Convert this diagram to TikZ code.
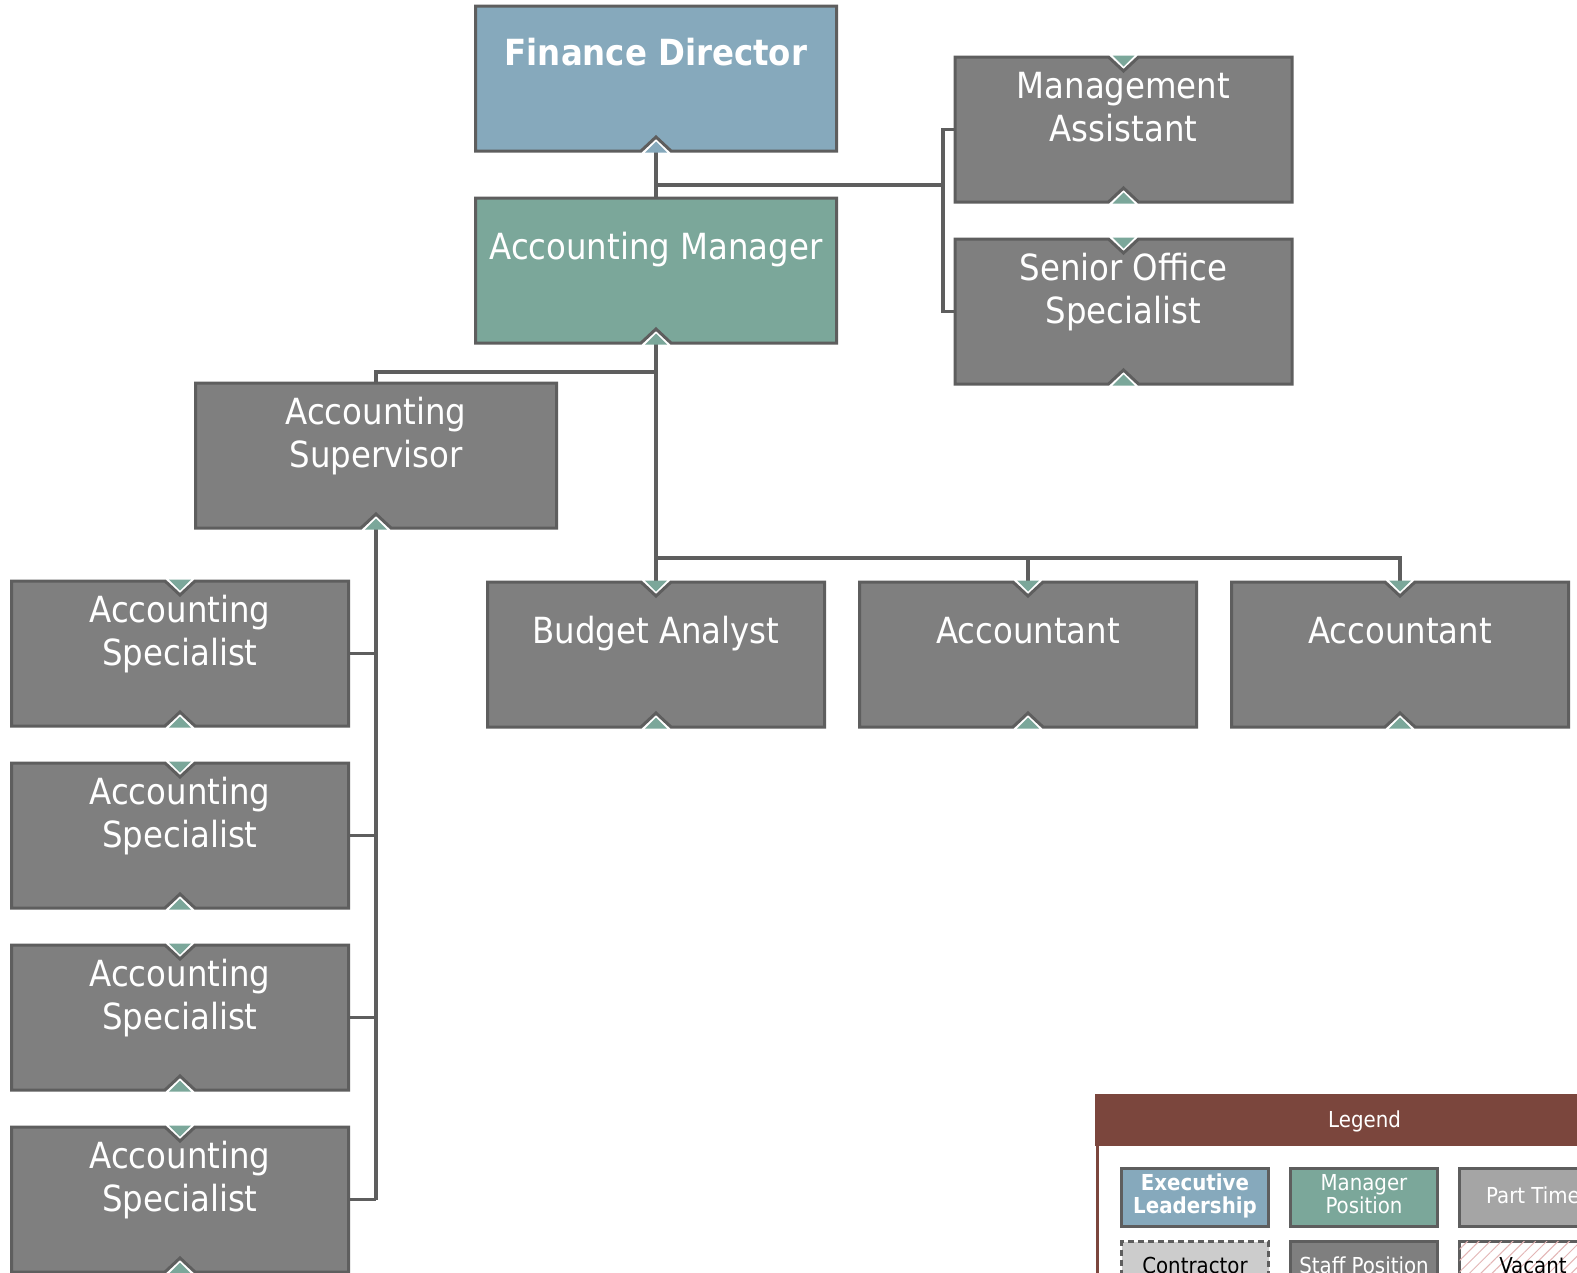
\documentclass[tikz,border=0pt]{standalone}
\usepackage{fontspec}
\newfontfamily\boxfont{DejaVu Sans Condensed}
\usetikzlibrary{calc,patterns.meta}
\definecolor{bgray}{HTML}{5E5E5E}
\definecolor{staff}{HTML}{7F7F7F}
\definecolor{execblue}{HTML}{86A9BC}
\definecolor{mgrgreen}{HTML}{7BA79A}
\definecolor{lbrown}{HTML}{7B463D}
\definecolor{parttime}{HTML}{A5A5A5}
\definecolor{contract}{HTML}{CCCCCC}
\definecolor{hatch}{HTML}{E3B5B5}
\pgfdeclarelayer{back}
\pgfdeclarelayer{bg}
\pgfsetlayers{back,bg,main}
\tikzset{
  boxnode/.style={rectangle, inner sep=0pt, outer sep=0pt, draw=none},
  boxline/.style={draw=bgray, line width=3pt, line join=miter},
  conn/.style={draw=bgray, line width=3.2pt},
  boxtext/.style={text=white, font=\boxfont\fontsize{36}{43}\selectfont, anchor=base, inner sep=0pt},
  boldtext/.style={text=white, font=\boxfont\bfseries\fontsize{36}{43}\selectfont, anchor=base, inner sep=0pt},
  legbox/.style={rectangle, draw=bgray, line width=3pt, minimum width=147pt, minimum height=58pt, anchor=north west, inner sep=0pt},
  legtext/.style={font=\boxfont\fontsize{22}{23}\selectfont, anchor=base, inner sep=0pt},
}
% name, cx, top, width, fill, accent, topnotch
\newcommand\orgbox[7]{%
  \node[boxnode, minimum width=#4pt, minimum height=145pt] (#1) at (#2,#3+72.5) {};
  \ifnum#7=1 \def\tnotch{-- ($(#1.north)+(-15,0)$) -- ($(#1.north)+(0,14)$) -- ($(#1.north)+(15,0)$)}\else\def\tnotch{}\fi
  \filldraw[boxline, fill=#5] (#1.south west) -- (#1.north west) \tnotch -- (#1.north east) -- (#1.south east)
     -- ($(#1.south)+(15,0)$) -- ($(#1.south)+(0,-14)$) -- ($(#1.south)+(-15,0)$) -- cycle;
  \fill[#6] ($(#1.south)+(-11,1.5)$) -- ($(#1.south)+(0,-9.5)$) -- ($(#1.south)+(11,1.5)$) -- cycle;
  \ifnum#7=1 \fill[#6] ($(#1.north)+(-11,-1.5)$) -- ($(#1.north)+(0,9.5)$) -- ($(#1.north)+(11,-1.5)$) -- cycle;\fi
}
\newcommand\oneline[2]{\node[boxtext] (#1-a) at ($(#1.north)+(0,61)$) {#2};}
\newcommand\twoline[3]{\node[boxtext] (#1-a) at ($(#1.north)+(0,41)$) {#2};
  \node[boxtext] (#1-b) at ($(#1.north)+(0,84)$) {#3};}
\begin{document}
\begin{tikzpicture}[x=1pt,y=-1pt]
\useasboundingbox (0,0) rectangle (1577,1272);
\begin{pgfonlayer}{back}
\fill[white] (0,0) rectangle (1577,1272);
\end{pgfonlayer}
\clip (0,0) rectangle (1577,1272);

% boxes
\orgbox{fd}{656}{6}{361}{execblue}{execblue}{0}
\node[boldtext] (fd-a) at ($(fd.north)+(0,59)$) {Finance Director};
\orgbox{am}{656}{198}{361}{mgrgreen}{mgrgreen}{0}
\oneline{am}{Accounting Manager}
\orgbox{ma}{1123.5}{57}{337}{staff}{mgrgreen}{1}
\twoline{ma}{Management}{Assistant}
\orgbox{sos}{1123.5}{239}{337}{staff}{mgrgreen}{1}
\twoline{sos}{Senior Office}{Specialist}
\orgbox{sup}{376}{383}{361}{staff}{mgrgreen}{0}
\twoline{sup}{Accounting}{Supervisor}
\orgbox{as1}{180}{581}{337}{staff}{mgrgreen}{1}
\twoline{as1}{Accounting}{Specialist}
\orgbox{as2}{180}{763}{337}{staff}{mgrgreen}{1}
\twoline{as2}{Accounting}{Specialist}
\orgbox{as3}{180}{945}{337}{staff}{mgrgreen}{1}
\twoline{as3}{Accounting}{Specialist}
\orgbox{as4}{180}{1127}{337}{staff}{mgrgreen}{1}
\twoline{as4}{Accounting}{Specialist}
\orgbox{ba}{656}{582}{337}{staff}{mgrgreen}{1}
\oneline{ba}{Budget Analyst}
\orgbox{ac1}{1028}{582}{337}{staff}{mgrgreen}{1}
\oneline{ac1}{Accountant}
\orgbox{ac2}{1400}{582}{337}{staff}{mgrgreen}{1}
\oneline{ac2}{Accountant}

% connectors
\coordinate (j1) at (943,185);
\coordinate (j2) at (656,372);
\coordinate (j3) at (656,558);
\begin{pgfonlayer}{bg}
\draw[conn] (fd.south) -- (am.north);
\draw[conn] (fd.south |- j1) -- (j1);
\draw[conn] (ma.west) -| (j1) |- (sos.west);
\draw[conn] (am.south) -- (ba.north);
\draw[conn] (j2) -| (sup.north);
\draw[conn] (j3) -| (ac1.north);
\draw[conn] (j3) -| (ac2.north);
\draw[conn] (sup.south) -- (sup.south |- as4.east);
\foreach \n in {as1,as2,as3,as4} \draw[conn] (\n.east) -- (\n.east -| sup.south);
\end{pgfonlayer}

% legend
\node[rectangle, draw=lbrown, line width=3pt, fill=white, minimum width=534pt, minimum height=400pt, anchor=north west, inner sep=0pt] (leg) at (1096,1095) {};
\fill[lbrown] ($(leg.north west)+(-1.5,-1.5)$) rectangle ($(leg.north east)+(1.5,51)$);
\node[legtext, text=white] (leg-t) at ($(leg.north)+(0,32)$) {Legend};

\node[legbox, fill=execblue] (l1) at (1120,1167) {};
\node[legtext, text=white, font=\boxfont\bfseries\fontsize{22}{23}\selectfont] (l1-a) at ($(l1.north)+(0,23)$) {Executive};
\node[legtext, text=white, font=\boxfont\bfseries\fontsize{22}{23}\selectfont] (l1-b) at ($(l1.north)+(0,46)$) {Leadership};
\node[legbox, fill=mgrgreen] (l2) at (1289,1167) {};
\node[legtext, text=white] (l2-a) at ($(l2.north)+(0,23)$) {Manager};
\node[legtext, text=white] (l2-b) at ($(l2.north)+(0,46)$) {Position};
\node[legbox, fill=parttime] (l3) at (1458,1167) {};
\node[legtext, text=white] (l3-a) at ($(l3.north)+(0,36)$) {Part Time};

\node[legbox, fill=contract, dashed, dash pattern=on 6pt off 4pt] (l4) at (1120,1240) {};
\node[legtext, text=black] (l4-a) at ($(l4.north)+(0,33)$) {Contractor};
\node[legbox, fill=staff] (l5) at (1289,1240) {};
\node[legtext, text=white] (l5-a) at ($(l5.north)+(0,33)$) {Staff Position};
\node[legbox, fill=white, postaction={pattern={Lines[angle=45,distance=8pt,line width=1pt]}, pattern color=hatch}] (l6) at (1458,1240) {};
\node[legtext, text=black] (l6-a) at ($(l6.north)+(0,33)$) {Vacant};
\end{tikzpicture}
\end{document}
